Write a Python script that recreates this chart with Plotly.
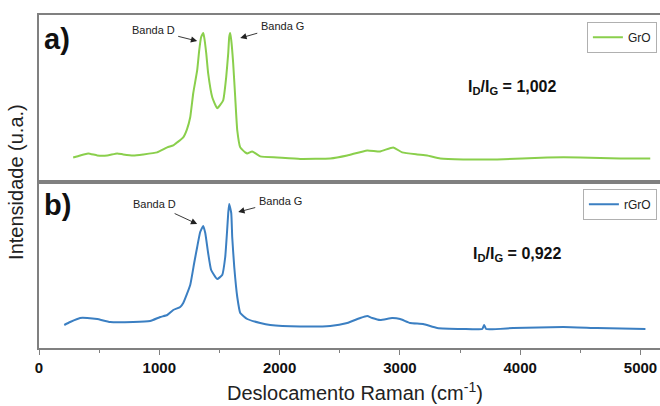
import plotly.graph_objects as go
from plotly.subplots import make_subplots

# ---- data ----
gro_x = [284, 342, 409, 484, 567, 650, 700, 783, 866, 982, 1066, 1116, 1149, 1199, 1230,
         1257, 1282, 1315, 1332, 1348, 1365, 1373, 1390, 1406, 1440, 1481, 1531, 1556,
         1573, 1581, 1589, 1598, 1614, 1631, 1648, 1673, 1714, 1731, 1772, 1839, 1980,
         2171, 2421, 2562, 2728, 2836, 2944, 3019, 3144, 3227, 3335, 3526, 3808, 4224,
         4498, 4831, 5081]
gro_y = [240, 260, 280, 260, 260, 280, 270, 260, 270, 290, 340, 360, 390, 440, 520,
         640, 880, 1110, 1310, 1440, 1480, 1440, 1280, 1080, 840, 730, 810, 1040,
         1280, 1440, 1480, 1410, 1180, 840, 510, 340, 290, 280, 300, 250, 240,
         225, 230, 260, 310, 300, 340, 290, 270, 260, 230, 220, 220, 240,
         240, 230, 230]

rgro_x = [210, 259, 342, 401, 484, 592, 783, 924, 1008, 1066, 1116, 1174, 1199, 1257,
          1290, 1315, 1340, 1365, 1382, 1406, 1431, 1481, 1523, 1548, 1564, 1573, 1581,
          1598, 1606, 1623, 1648, 1673, 1731, 1839, 1922, 2171, 2421, 2562, 2670, 2728,
          2770, 2836, 2935, 3002, 3085, 3193, 3310, 3526, 3684, 3700, 3717, 3942, 4358,
          4640, 5041]
rgro_y = [230, 260, 300, 300, 290, 260, 260, 270, 310, 330, 380, 410, 450, 630,
          850, 1010, 1160, 1220, 1150, 950, 780, 690, 730, 910, 1180, 1350, 1440,
          1350, 1110, 810, 510, 350, 290, 250, 230, 215, 220, 250, 300, 320,
          300, 280, 300, 290, 250, 240, 200, 190, 190, 230, 190, 200, 210,
          200, 190]

x_ticks = [0, 1000, 2000, 3000, 4000, 5000]
x_tick_labels = ["0", "1000", "2000", "3000", "4000", "5000"]
series_names = ["GrO", "rGrO"]
ratios = ["1,002", "0,922"]
panel_labels = ["a)", "b)"]

GREEN = "#8acf4c"
BLUE = "#3b7fc2"
FRAME = "#808080"
FONT = "Liberation Sans, Arial, sans-serif"

fig = make_subplots(rows=2, cols=1, shared_xaxes=True, vertical_spacing=0)

fig.add_trace(go.Scatter(x=gro_x, y=gro_y, mode="lines", name=series_names[0],
                         line=dict(color=GREEN, width=2, shape="spline", smoothing=0.4),
                         legend="legend"), row=1, col=1)
fig.add_trace(go.Scatter(x=rgro_x, y=rgro_y, mode="lines", name=series_names[1],
                         line=dict(color=BLUE, width=2, shape="spline", smoothing=0.4),
                         legend="legend2"), row=2, col=1)

xcommon = dict(range=[0, 5162], showgrid=False, zeroline=False, showline=True,
               linecolor=FRAME, linewidth=1.5, mirror=True)
fig.update_xaxes(**xcommon)
fig.update_xaxes(row=1, col=1, showticklabels=False, ticks="")
fig.update_xaxes(row=2, col=1, tickvals=x_ticks,
                 ticktext=["<b>%s</b>" % t for t in x_tick_labels],
                 ticks="outside", ticklen=5, tickcolor=FRAME, tickwidth=1.2,
                 minor=dict(dtick=500, tick0=0, ticks="outside", ticklen=3,
                            tickcolor=FRAME, tickwidth=1),
                 tickfont=dict(family=FONT, size=15, color="#111", weight="bold"),
                 ticklabelstandoff=0)

ycommon = dict(showgrid=False, zeroline=False, showline=True, linecolor=FRAME,
               linewidth=1.5, showticklabels=False, ticks="")
fig.update_yaxes(**ycommon)
fig.update_yaxes(row=1, col=1, range=[0, 1660], domain=[0.5, 1])
fig.update_yaxes(row=2, col=1, range=[0, 1665], domain=[0, 0.5])

legend_style = dict(xanchor="right", yanchor="top", bordercolor="#b0b0b0",
                    borderwidth=1, itemwidth=30, tracegroupgap=0,
                    font=dict(size=12, color="#222", family=FONT), bgcolor="white")
fig.update_layout(
    width=660, height=406,
    margin=dict(l=39, r=0, t=15, b=58),
    paper_bgcolor="white", plot_bgcolor="white",
    font=dict(family=FONT, color="#222"),
    showlegend=True,
    legend=dict(x=0.995, y=0.98, **legend_style),
    legend2=dict(x=0.995, y=0.478, **legend_style),
)

annots = []
# axis titles
annots.append(dict(text="Deslocamento Raman (cm<sup>-1</sup>)", xref="paper", yref="paper",
                   x=0.509, y=-0.132, yanchor="middle", showarrow=False,
                   font=dict(size=20, color="#222", family=FONT)))
annots.append(dict(text="Intensidade (u.a.)", xref="paper", yref="paper",
                   x=-0.038, y=0.5, textangle=-90, xanchor="center", yanchor="middle",
                   showarrow=False, font=dict(size=20, color="#222", family=FONT)))
# panel labels and ratios
for i, (lab, ratio) in enumerate(zip(panel_labels, ratios)):
    xd = "x domain" if i == 0 else "x2 domain"
    yd = "y domain" if i == 0 else "y2 domain"
    annots.append(dict(text="<b>%s</b>" % lab, xref=xd, yref=yd,
                       x=0.029, y=0.855 if i == 0 else 0.86, xanchor="center",
                       yanchor="middle", showarrow=False,
                       font=dict(size=29, color="#111", family=FONT)))
    annots.append(dict(text="<b>I<sub>D</sub>/I<sub>G</sub> = %s</b>" % ratio,
                       xref=xd, yref=yd,
                       x=0.763 if i == 0 else 0.77, y=0.565 if i == 0 else 0.56,
                       xanchor="center", yanchor="middle", showarrow=False,
                       font=dict(size=16, color="#111", family=FONT)))

# band labels with arrows: (xref, yref, tip_x, tip_y, ax, ay, label)
band = [
    ("x", "y", 1315, 1400, -44, -11, "Banda D"),
    ("x", "y", 1673, 1430, 42, -12, "Banda G"),
    ("x2", "y2", 1315, 1240, -43, -20, "Banda D"),
    ("x2", "y2", 1656, 1360, 42, -11, "Banda G"),
]
for xr, yr, px, py, ax, ay, lab in band:
    annots.append(dict(text=lab, xref=xr, yref=yr, x=px, y=py, ax=ax, ay=ay,
                       showarrow=True, arrowhead=2, arrowsize=1.4, arrowwidth=0.9,
                       arrowcolor="#222", standoff=0, borderpad=3,
                       font=dict(size=11, color="#222", family=FONT)))

fig.update_layout(annotations=annots)

fig.write_html("out.html")
